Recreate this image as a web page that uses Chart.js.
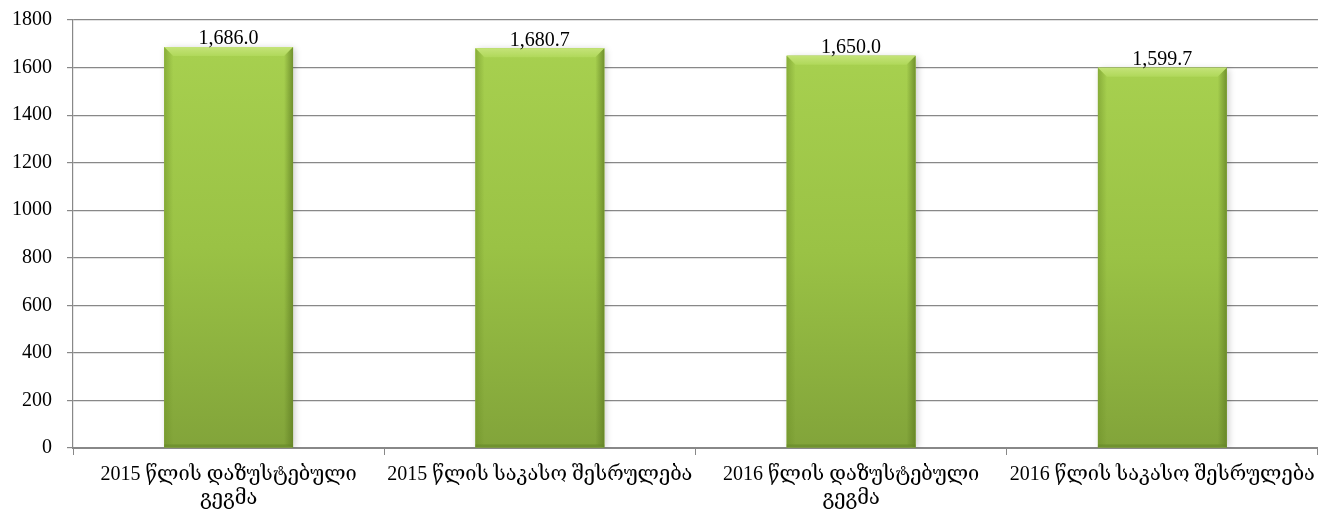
<!DOCTYPE html>
<html>
<head>
<meta charset="utf-8">
<script src="https://cdn.jsdelivr.net/npm/chart.js@4"></script>
<style>
  html, body { margin: 0; padding: 0; background: #ffffff; }
  #wrap { width: 1323px; height: 519px; position: relative; }
</style>
</head>
<body>
<div id="wrap"><canvas id="c" width="1323" height="519"></canvas></div>
<script>
// Budget figures: refined plan vs. cash execution, 2015 and 2016
const categories = [
  ['2015 წლის დაზუსტებული', 'გეგმა'],
  '2015 წლის საკასო შესრულება',
  ['2016 წლის დაზუსტებული', 'გეგმა'],
  '2016 წლის საკასო შესრულება'
];
const values = [1686.0, 1680.7, 1650.0, 1599.7];
const yTicks = [0, 200, 400, 600, 800, 1000, 1200, 1400, 1600, 1800];

const FONT = '"Liberation Serif", "DejaVu Serif", serif';

const fmt = v => v.toLocaleString('en-US', { minimumFractionDigits: 1, maximumFractionDigits: 1 });

// Soft shadow under the bars
const barShadow = {
  id: 'barShadow',
  beforeDatasetsDraw(chart) {
    const ctx = chart.ctx;
    ctx.save();
    ctx.shadowColor = 'rgba(0,0,0,0.22)';
    ctx.shadowBlur = 7;
    ctx.shadowOffsetX = 2;
    ctx.shadowOffsetY = 1;
  },
  afterDatasetsDraw(chart) {
    chart.ctx.restore();
  }
};

// Bevelled green finish and value labels on top of each bar
const barFinish = {
  id: 'barFinish',
  afterDatasetsDraw(chart) {
    const ctx = chart.ctx;
    const meta = chart.getDatasetMeta(0);
    meta.data.forEach((bar, i) => {
      const { x, y, base, width } = bar.getProps(['x', 'y', 'base', 'width'], true);
      const l = x - width / 2, r = x + width / 2, t = y, b = base;
      const h = b - t;
      ctx.save();
      // body gradient
      const g = ctx.createLinearGradient(0, t, 0, b);
      g.addColorStop(0, '#a7d04f');
      g.addColorStop(0.5, '#9ac245');
      g.addColorStop(1, '#82a43a');
      ctx.fillStyle = g;
      ctx.fillRect(l, t, width, h);
      const bv = 9;
      // top bevel
      ctx.beginPath();
      ctx.moveTo(l, t); ctx.lineTo(r, t); ctx.lineTo(r - bv, t + bv); ctx.lineTo(l + bv, t + bv); ctx.closePath();
      const gt = ctx.createLinearGradient(0, t, 0, t + bv);
      gt.addColorStop(0, '#c4e378');
      gt.addColorStop(1, '#b0d85a');
      ctx.fillStyle = gt; ctx.fill();
      // left bevel
      ctx.beginPath();
      ctx.moveTo(l, t); ctx.lineTo(l + bv, t + bv); ctx.lineTo(l + bv, b - 3); ctx.lineTo(l, b); ctx.closePath();
      const gl = ctx.createLinearGradient(l, 0, l + bv, 0);
      gl.addColorStop(0, 'rgba(110,145,40,0.55)');
      gl.addColorStop(1, 'rgba(110,145,40,0.0)');
      ctx.fillStyle = gl; ctx.fill();
      // right bevel
      ctx.beginPath();
      ctx.moveTo(r, t); ctx.lineTo(r - bv, t + bv); ctx.lineTo(r - bv, b - 3); ctx.lineTo(r, b); ctx.closePath();
      const gr = ctx.createLinearGradient(r - bv, 0, r, 0);
      gr.addColorStop(0, 'rgba(95,125,35,0.0)');
      gr.addColorStop(1, 'rgba(95,125,35,0.75)');
      ctx.fillStyle = gr; ctx.fill();
      // bottom edge
      ctx.fillStyle = 'rgba(100,135,40,0.6)';
      ctx.fillRect(l, b - 3, width, 3);
      // value label
      ctx.fillStyle = '#000000';
      ctx.font = '20px ' + FONT;
      ctx.textAlign = 'center';
      ctx.textBaseline = 'bottom';
      ctx.fillText(fmt(values[i]), x, t + 2);
      ctx.restore();
    });
  }
};

new Chart(document.getElementById('c'), {
  type: 'bar',
  data: {
    labels: categories,
    datasets: [{
      data: values,
      backgroundColor: '#9ac245',
      borderWidth: 0,
      barPercentage: 0.414,
      categoryPercentage: 1.0
    }]
  },
  options: {
    responsive: false,
    animation: false,
    events: [],
    layout: { padding: { top: 20, right: 1, left: 12, bottom: 0 } },
    plugins: {
      legend: { display: false },
      tooltip: { enabled: false }
    },
    scales: {
      x: {
        offset: true,
        grid: {
          offset: true,
          drawOnChartArea: false,
          drawTicks: true,
          tickLength: 7,
          color: '#888888',
          lineWidth: 1
        },
        border: { color: '#888888', width: 2 },
        ticks: {
          color: '#000000',
          font: { family: FONT, size: 20, lineHeight: 1.2 },
          padding: 8,
          maxRotation: 0,
          autoSkip: false
        }
      },
      y: {
        min: 0,
        max: 1800,
        afterBuildTicks(scale) { scale.ticks = yTicks.map(v => ({ value: v })); },
        afterFit(scale) {
          scale.width = 61;
          scale.paddingTop = 0;
          scale.paddingBottom = 0;
        },
        grid: {
          color: '#888888',
          lineWidth: 1.2,
          tickLength: 6
        },
        border: { color: '#888888', width: 1.2 },
        ticks: {
          color: '#000000',
          font: { family: FONT, size: 20 },
          padding: 15,
          callback: v => String(v)
        }
      }
    }
  },
  plugins: [barShadow, barFinish]
});
</script>
</body>
</html>
